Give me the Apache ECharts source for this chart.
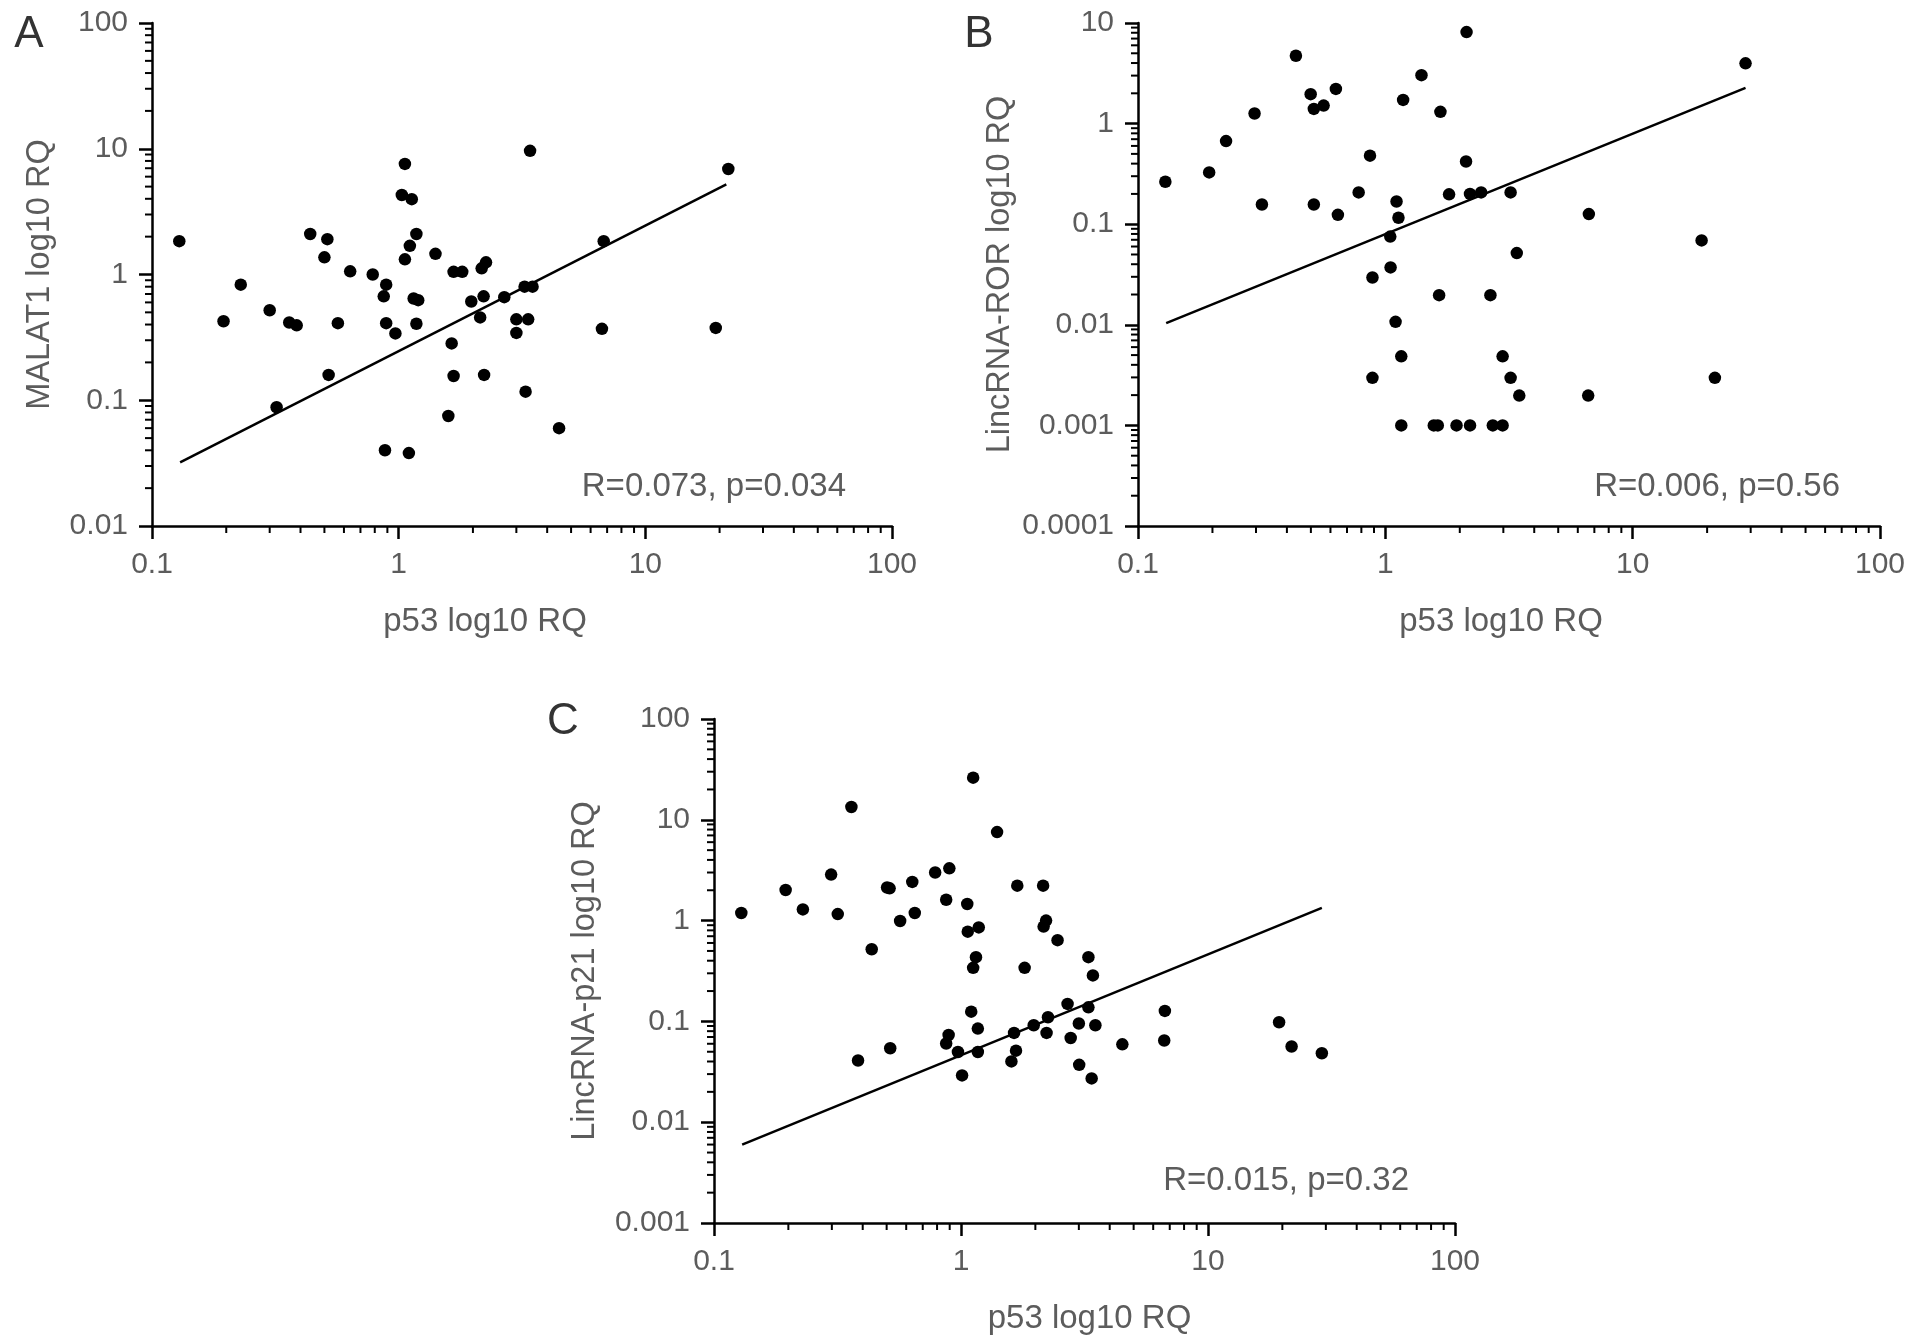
<!DOCTYPE html>
<html><head><meta charset="utf-8">
<script src="https://cdn.jsdelivr.net/npm/echarts@6/dist/echarts.min.js"></script>
<style>html,body{margin:0;padding:0;background:#fff;}#c{width:1913px;height:1343px;}</style>
</head><body><div id="c"></div>
<script>
// ---------- data ----------
const xTickLabels = ['0.1', '1', '10', '100'];
const yTickLabelsA = ['0.01', '0.1', '1', '10', '100'];
const yTickLabelsB = ['0.0001', '0.001', '0.01', '0.1', '1', '10'];
const yTickLabelsC = ['0.001', '0.01', '0.1', '1', '10', '100'];

const p53_A = [0.129,0.195,0.229,0.30,0.32,0.36,0.386,0.438,0.514,0.50,0.52,0.567,0.636,0.785,0.89,0.87,0.89,0.97,0.88,1.06,1.03,1.13,1.18,1.11,1.06,1.15,1.20,1.18,1.10,1.41,1.67,1.81,1.64,1.67,1.59,1.97,2.17,2.26,2.21,2.14,2.22,2.68,3.0,3.0,3.24,3.49,3.35,3.27,3.41,4.47,6.78,6.67,19.3,21.7];
const malat1 = [1.84,0.425,0.83,0.52,0.088,0.415,0.394,2.1,1.91,1.37,0.159,0.41,1.06,1.0,0.83,0.67,0.41,0.34,0.040,7.58,4.29,3.97,2.1,1.69,1.32,0.644,0.625,0.406,0.038,1.46,1.05,1.05,0.283,0.156,0.075,0.61,1.12,1.25,0.67,0.456,0.159,0.66,0.44,0.343,0.80,0.80,0.44,0.117,9.62,0.060,1.84,0.37,0.376,6.9];

const p53_B = [0.129,0.194,0.227,0.296,0.317,0.435,0.499,0.514,0.563,0.631,0.514,0.643,0.78,0.867,0.887,0.887,1.047,1.05,1.11,1.13,1.10,1.16,1.16,1.18,1.40,1.67,1.81,1.65,1.57,1.63,1.94,2.20,2.13,2.12,2.20,2.44,2.66,2.72,2.98,2.98,3.21,3.21,3.40,3.48,6.65,6.61,19.0,21.5,28.6];
const lincROR = [0.264,0.327,0.67,1.26,0.157,4.73,1.96,1.40,1.51,2.21,0.157,0.124,0.207,0.48,0.0295,0.00297,0.0753,0.0372,0.168,0.116,0.0107,0.00486,0.001,1.72,3.03,1.31,0.198,0.0197,0.001,0.001,0.001,0.001,8.12,0.42,0.20,0.207,0.0197,0.001,0.001,0.00486,0.207,0.00297,0.0516,0.00198,0.126,0.00198,0.069,0.00297,3.97];

const p53_C = [0.129,0.195,0.229,0.298,0.317,0.36,0.383,0.435,0.502,0.514,0.517,0.567,0.635,0.65,0.786,0.897,0.871,0.871,0.891,0.972,1.01,1.06,1.065,1.12,1.18,1.15,1.12,1.10,1.17,1.17,1.40,1.69,1.81,1.64,1.67,1.60,1.97,2.15,2.16,2.21,2.22,2.25,2.46,2.70,2.78,3.0,3.01,3.28,3.42,3.28,3.50,3.38,4.50,6.69,6.65,19.4,21.8,28.9];
const lincP21 = [1.19,2.01,1.29,2.86,1.16,13.4,0.0409,0.52,2.13,2.09,0.0542,0.99,2.42,1.19,3.0,3.30,1.61,0.0604,0.0733,0.0497,0.0291,1.46,0.777,26.2,0.856,0.434,0.34,0.125,0.0848,0.0497,7.55,2.22,0.34,0.0769,0.0512,0.0401,0.0916,2.22,0.873,1.0,0.0769,0.110,0.64,0.149,0.0685,0.0953,0.0371,0.434,0.286,0.138,0.0916,0.0272,0.0592,0.127,0.0646,0.098,0.0564,0.0483];

const fitA_x = [0.13, 21.3];  const fitA_y = [0.032, 5.2];
const fitB_x = [0.13, 28.6];  const fitB_y = [0.0104, 2.27];
const fitC_x = [0.13, 28.9];  const fitC_y = [0.006, 1.34];

const statsA = 'R=0.073, p=0.034';
const statsB = 'R=0.006, p=0.56';
const statsC = 'R=0.015, p=0.32';

const panelLetters = ['A', 'B', 'C'];
const xName = 'p53 log10 RQ';
const yNames = ['MALAT1 log10 RQ', 'LincRNA-ROR log10 RQ', 'LincRNA-p21 log10 RQ'];

// ---------- helpers ----------
const FONT = '"Liberation Sans", Arial, sans-serif';
const TXT = '#5c5c5c';

function labelFormatter(labels, min) {
  const e0 = Math.round(Math.log10(min));
  return v => labels[Math.round(Math.log10(v)) - e0] || '';
}
function minorVals(min, max) {
  const out = [];
  for (let e = Math.round(Math.log10(min)); e < Math.round(Math.log10(max)); e++)
    for (let m = 2; m <= 9; m++) out.push(m * Math.pow(10, e));
  return out;
}
function pairs(xs, ys) { return xs.map((x, i) => [x, ys[i]]); }

const panels = [
  { grid: { left: 152, top: 23, width: 740, height: 503 }, ymin: 0.01, ymax: 100, ylabels: yTickLabelsA, xs: p53_A, ys: malat1, fx: fitA_x, fy: fitA_y, yGap: 95, xPad: [0, 74, 0, 0] },
  { grid: { left: 1138, top: 23, width: 742, height: 503 }, ymin: 0.0001, ymax: 10, ylabels: yTickLabelsB, xs: p53_B, ys: lincROR, fx: fitB_x, fy: fitB_y, yGap: 121, xPad: [0, 16, 0, 0] },
  { grid: { left: 714, top: 719, width: 741, height: 504 }, ymin: 0.001, ymax: 100, ylabels: yTickLabelsC, xs: p53_C, ys: lincP21, fx: fitC_x, fy: fitC_y, yGap: 112, xPad: [0, 0, 0, 10] }
];

const axisLine = { show: true, onZero: false, lineStyle: { color: '#000', width: 2.5 } };
const axisTick = { show: true, inside: false, length: 13, lineStyle: { color: '#000', width: 2.5 } };

const grids = [], xAxes = [], yAxes = [], series = [];
panels.forEach((p, i) => {
  grids.push(Object.assign({ containLabel: false }, p.grid));
  xAxes.push({
    type: 'log', logBase: 10, gridIndex: i, min: 0.1, max: 100,
    name: xName, nameLocation: 'middle', nameGap: 79,
    nameTextStyle: { fontFamily: FONT, fontSize: 33, color: TXT, padding: p.xPad },
    axisLine, axisTick,
    axisLabel: { margin: 24, fontFamily: FONT, fontSize: 30, color: TXT, formatter: labelFormatter(xTickLabels, 0.1), showMinLabel: true, showMaxLabel: true },
    splitLine: { show: false }
  });
  yAxes.push({
    type: 'log', logBase: 10, gridIndex: i, min: p.ymin, max: p.ymax,
    name: yNames[i], nameLocation: 'middle', nameGap: p.yGap, nameRotate: 90,
    nameTextStyle: { fontFamily: FONT, fontSize: 32.5, color: TXT },
    axisLine, axisTick,
    axisLabel: { margin: 24, fontFamily: FONT, fontSize: 30, color: TXT, formatter: labelFormatter(p.ylabels, p.ymin), showMinLabel: true, showMaxLabel: true },
    splitLine: { show: false }
  });
  // minor ticks (log-spaced 2..9) drawn through the axis scales
  const minorData = minorVals(0.1, 100).map(v => [v, p.ymin, 0])
    .concat(minorVals(p.ymin, p.ymax).map(v => [0.1, v, 1]));
  series.push({
    type: 'custom', xAxisIndex: i, yAxisIndex: i, silent: true, clip: false, z: 1,
    data: minorData, encode: { x: 0, y: 1 },
    renderItem: (params, api) => {
      const pt = api.coord([api.value(0), api.value(1)]);
      const vert = api.value(2) === 0;
      return {
        type: 'line',
        shape: vert ? { x1: pt[0], y1: pt[1], x2: pt[0], y2: pt[1] + 7 }
                    : { x1: pt[0] - 7, y1: pt[1], x2: pt[0], y2: pt[1] },
        style: { stroke: '#000', lineWidth: 2 }
      };
    }
  });
  series.push({
    type: 'line', xAxisIndex: i, yAxisIndex: i, data: pairs(p.fx, p.fy),
    symbol: 'none', lineStyle: { color: '#000', width: 2.5 }, silent: true, z: 2
  });
  series.push({
    type: 'scatter', xAxisIndex: i, yAxisIndex: i, data: pairs(p.xs, p.ys),
    symbol: 'circle', symbolSize: 12.5, itemStyle: { color: '#000', opacity: 1 }, z: 3
  });
});

const stats = [statsA, statsB, statsC];
const statPos = [[846, 487], [1840, 487], [1409, 1181]];
const letterPos = [[29, 35], [979, 35], [563, 722]];
const graphic = [];
stats.forEach((s, i) => {
  graphic.push({ type: 'text', x: statPos[i][0], y: statPos[i][1],
    style: { text: s, font: '33px ' + FONT, fill: TXT, align: 'right', verticalAlign: 'middle', textAlign: 'right', textVerticalAlign: 'middle' } });
  graphic.push({ type: 'text', x: letterPos[i][0], y: letterPos[i][1],
    style: { text: panelLetters[i], font: '44px ' + FONT, fill: '#333', align: 'center', verticalAlign: 'middle', textAlign: 'center', textVerticalAlign: 'middle' } });
});

const chart = echarts.init(document.getElementById('c'));
chart.setOption({
  animation: false,
  backgroundColor: '#fff',
  grid: grids, xAxis: xAxes, yAxis: yAxes, series, graphic
});
</script></body></html>
